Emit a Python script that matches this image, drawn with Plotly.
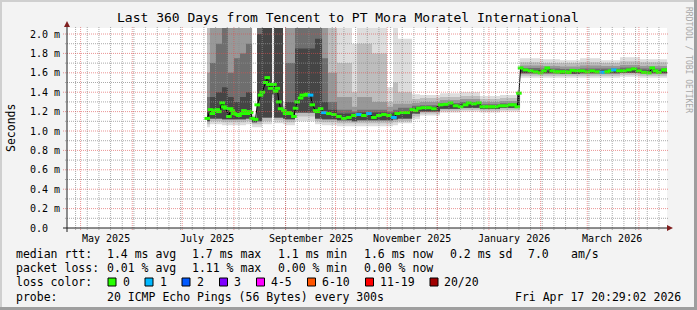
import plotly.graph_objects as go
from datetime import datetime, timedelta

# ---------------- data ----------------
range_start = "2025-04-22 20:29:02"
range_end = "2026-04-17 20:29:02"

median_dates = [
    "2025-07-16", "2025-07-18", "2025-07-19", "2025-07-20", "2025-07-22", "2025-07-23",
    "2025-07-25", "2025-07-26", "2025-07-27", "2025-07-29", "2025-07-30", "2025-07-31",
    "2025-08-01", "2025-08-03", "2025-08-04", "2025-08-06", "2025-08-07", "2025-08-09",
    "2025-08-10", "2025-08-11", "2025-08-12", "2025-08-14", "2025-08-15", "2025-08-17",
    "2025-08-18", "2025-08-20", "2025-08-21", "2025-08-22", "2025-08-23", "2025-08-25",
    "2025-08-26", "2025-08-27", "2025-08-28", "2025-08-29", "2025-08-31", "2025-09-01",
    "2025-09-03", "2025-09-04", "2025-09-06", "2025-09-07", "2025-09-08", "2025-09-10",
    "2025-09-11", "2025-09-13", "2025-09-14", "2025-09-16", "2025-09-17", "2025-09-19",
    "2025-09-20", "2025-09-22", "2025-09-24", "2025-09-27", "2025-09-30", "2025-10-03",
    "2025-10-06", "2025-10-09", "2025-10-12", "2025-10-15", "2025-10-18", "2025-10-21",
    "2025-10-24", "2025-10-27", "2025-10-30", "2025-11-02", "2025-11-05", "2025-11-07",
    "2025-11-10", "2025-11-13", "2025-11-16", "2025-11-18", "2025-11-20", "2025-11-23",
    "2025-11-26", "2025-11-29", "2025-12-03", "2025-12-06", "2025-12-09", "2025-12-12",
    "2025-12-15", "2025-12-18", "2025-12-20", "2025-12-23", "2025-12-26", "2025-12-28",
    "2025-12-30", "2026-01-01", "2026-01-03", "2026-01-05", "2026-01-08", "2026-01-11",
    "2026-01-14", "2026-01-16", "2026-01-18", "2026-01-19", "2026-01-20", "2026-01-23",
    "2026-01-26", "2026-01-29", "2026-02-01", "2026-02-03", "2026-02-05", "2026-02-08",
    "2026-02-10", "2026-02-12", "2026-02-14", "2026-02-16", "2026-02-18", "2026-02-20",
    "2026-02-23", "2026-02-26", "2026-03-01", "2026-03-04", "2026-03-07", "2026-03-10",
    "2026-03-13", "2026-03-15", "2026-03-17", "2026-03-20", "2026-03-23", "2026-03-26",
    "2026-03-29", "2026-04-01", "2026-04-04", "2026-04-07", "2026-04-09", "2026-04-11",
    "2026-04-13", "2026-04-16", "2026-04-17",
]
median_ms = [
    1.13, 1.22, 1.18, 1.21, 1.22, 1.20,
    1.29, 1.25, 1.235, 1.15, 1.23, 1.21,
    1.18, 1.17, 1.16, 1.18, 1.21, 1.18,
    1.20, 1.19, 1.13, 1.12, 1.27, 1.37,
    1.40, 1.50, 1.55, 1.48, 1.44, 1.48,
    1.41, 1.44, 1.30, 1.23, 1.21, 1.18,
    1.19, 1.18, 1.15, 1.235, 1.30, 1.34,
    1.37, 1.37, 1.38, 1.37, 1.27, 1.21,
    1.20, 1.23, 1.19, 1.18, 1.17, 1.15,
    1.13, 1.14, 1.16, 1.17, 1.16, 1.18,
    1.14, 1.16, 1.17, 1.16, 1.14, 1.18,
    1.19, 1.19, 1.22, 1.21, 1.235, 1.24,
    1.24, 1.23, 1.27, 1.275, 1.29, 1.26,
    1.25, 1.27, 1.29, 1.28, 1.29, 1.25,
    1.25, 1.25, 1.25, 1.25, 1.26, 1.26,
    1.27, 1.27, 1.25, 1.39, 1.65, 1.63,
    1.62, 1.61, 1.60, 1.62, 1.65, 1.62,
    1.61, 1.61, 1.61, 1.61, 1.605, 1.625,
    1.62, 1.62, 1.61, 1.62, 1.61, 1.605,
    1.61, 1.62, 1.63, 1.62, 1.62, 1.63,
    1.64, 1.62, 1.605, 1.60, 1.65, 1.62,
    1.605, 1.63, 1.63,
]
# packets lost (of 20) per sample
median_loss = [0] * len(median_ms)
for _d in ["2025-09-16", "2025-09-24", "2025-10-15", "2025-10-21", "2025-11-05",
           "2026-03-10", "2026-03-17"]:
    median_loss[median_dates.index(_d)] = 1

# smoke: step segments between these edges, values = ping-distribution bands (ms)
smoke_edges = [
    "2025-07-15 21:00", "2025-07-17 16:00", "2025-07-21 06:00", "2025-07-24 21:00",
    "2025-07-28 11:00", "2025-08-01 01:00", "2025-08-04 16:00", "2025-08-08 06:00",
    "2025-08-11 21:00", "2025-08-14 21:00", "2025-08-17 21:00", "2025-08-23 21:00",
    "2025-08-25 01:00", "2025-08-30 11:00", "2025-08-31 16:00", "2025-09-06 16:00",
    "2025-09-18 16:00", "2025-09-22 21:00", "2025-09-26 11:00", "2025-10-01 21:00",
    "2025-10-10 21:00", "2025-10-13 21:00", "2025-10-22 21:00", "2025-10-31 21:00",
    "2025-11-04 11:00", "2025-11-07 11:00", "2025-11-15 21:00", "2025-11-20 16:00",
    "2025-12-02 16:00", "2025-12-14 16:00", "2025-12-26 16:00", "2026-01-07 16:00",
    "2026-01-17 21:00", "2026-01-19 16:00", "2026-01-31 16:00", "2026-02-12 16:00",
    "2026-02-24 16:00", "2026-03-08 16:00", "2026-03-20 16:00", "2026-04-01 16:00",
    "2026-04-17 20:29",
]
smoke_hi1 = [2.2, 2.2, 2.2, 2.2, 2.2, 2.2, 2.2, 2.2, 1.17, 2.2,
             2.2, 1.5, 2.2, 1.3, 2.2, 2.2, 2.2, 2.2, 2.2, 2.2,
             1.9, 2.2, 2.2, 1.45, 2.2, 1.95, 1.38, 1.37, 1.39, 1.40,
             1.36, 1.37, 1.42, 1.75, 1.74, 1.73, 1.75, 1.73, 1.76, 1.74]
smoke_hi2 = [2.2, 2.2, 2.2, 2.2, 2.2, 2.2, 2.2, 2.2, 1.15, 2.2,
             2.2, 1.48, 2.2, 1.26, 2.2, 2.2, 2.2, 2.2, 2.2, 1.7,
             1.4, 1.9, 1.8, 1.3, 1.5, 1.4, 1.33, 1.34, 1.35, 1.36,
             1.33, 1.34, 1.40, 1.71, 1.70, 1.70, 1.71, 1.70, 1.72, 1.71]
smoke_hi3 = [1.6, 2.2, 2.2, 2.2, 2.2, 2.2, 2.2, 2.2, 1.14, 2.2,
             2.2, 1.47, 2.2, 1.24, 2.2, 2.2, 2.2, 2.2, 1.6, 1.35,
             1.25, 1.35, 1.3, 1.25, 1.28, 1.28, 1.29, 1.3, 1.32, 1.33,
             1.3, 1.31, 1.39, 1.675, 1.67, 1.665, 1.675, 1.67, 1.68, 1.67]
smoke_hi4 = [1.35, 1.7, 1.9, 2.2, 1.6, 1.75, 1.8, 1.9, 1.13, 2.2,
             2.2, 1.46, 2.2, 1.22, 1.7, 2.2, 2.2, 1.75, 1.3, 1.22,
             1.2, 1.22, 1.22, 1.2, 1.22, 1.24, 1.26, 1.265, 1.29, 1.3,
             1.275, 1.285, 1.38, 1.65, 1.645, 1.64, 1.645, 1.645, 1.655, 1.645]
smoke_hi5 = [1.2, 1.35, 1.4, 1.45, 1.35, 1.3, 1.35, 1.4, 1.12, 2.0,
             2.2, 1.45, 2.2, 1.2, 1.3, 1.85, 1.95, 1.3, 1.22, 1.18,
             1.18, 1.19, 1.19, 1.18, 1.19, 1.2, 1.24, 1.245, 1.27, 1.28,
             1.26, 1.27, 1.37, 1.63, 1.625, 1.62, 1.625, 1.625, 1.635, 1.625]
smoke_lo1 = [1.04, 1.07, 1.07, 1.06, 1.06, 1.06, 1.06, 1.07, 1.04, 1.04,
             1.07, 1.3, 1.08, 1.07, 1.06, 1.1, 1.07, 1.06, 1.06, 1.05,
             1.05, 1.05, 1.05, 1.05, 1.06, 1.08, 1.12, 1.16, 1.19, 1.2,
             1.19, 1.2, 1.2, 1.55, 1.55, 1.55, 1.55, 1.55, 1.56, 1.55]
smoke_lo2 = [1.07, 1.1, 1.1, 1.09, 1.09, 1.09, 1.09, 1.1, 1.07, 1.07,
             1.1, 1.34, 1.11, 1.1, 1.09, 1.15, 1.1, 1.09, 1.09, 1.08,
             1.08, 1.08, 1.08, 1.08, 1.09, 1.1, 1.15, 1.18, 1.21, 1.22,
             1.21, 1.22, 1.22, 1.57, 1.57, 1.57, 1.57, 1.57, 1.58, 1.57]
smoke_lo3 = [1.1, 1.13, 1.13, 1.12, 1.12, 1.12, 1.12, 1.13, 1.09, 1.1,
             1.14, 1.38, 1.14, 1.13, 1.12, 1.19, 1.13, 1.12, 1.12, 1.11,
             1.1, 1.11, 1.11, 1.11, 1.12, 1.13, 1.18, 1.2, 1.23, 1.24,
             1.23, 1.24, 1.25, 1.595, 1.595, 1.59, 1.595, 1.595, 1.6, 1.595]

x_label_dates = ["2025-05-16", "2025-07-16", "2025-09-16", "2025-11-16", "2026-01-16", "2026-03-16"]
x_labels = ["May 2025", "July 2025", "September 2025", "November 2025", "January 2026", "March 2026"]
y_ticks = [0.0, 0.2, 0.4, 0.6, 0.8, 1.0, 1.2, 1.4, 1.6, 1.8, 2.0]
y_labels = ["0.0", "0.2 m", "0.4 m", "0.6 m", "0.8 m", "1.0 m", "1.2 m", "1.4 m", "1.6 m", "1.8 m", "2.0 m"]

title_text = "Last 360 Days from Tencent to PT Mora Moratel International"
rtt_row = ["median rtt:", "1.4 ms avg", "1.7 ms max", "1.1 ms min", "1.6 ms now", "0.2 ms sd", "7.0", "am/s"]
loss_row = ["packet loss:", "0.01 % avg", "1.11 % max", "0.00 % min", "0.00 % now"]
loss_labels = ["0", "1", "2", "3", "4-5", "6-10", "11-19", "20/20"]
loss_colors = ["#26ff00", "#00b8ff", "#0059ff", "#7e00ff", "#ff00ff", "#ff5500", "#ff0000", "#a00000"]
probe_text = "20 ICMP Echo Pings (56 Bytes) every 300s"
stamp_text = "Fri Apr 17 20:29:02 2026"

# ---------------- layout constants ----------------
W, H = 697, 310
ML, MT, PW, PH = 67, 28, 600, 200
MR, MB = W - ML - PW, H - MT - PH
FONT = "DejaVu Sans Mono"
Y_MAX = 2.062

def px_x(p):
    return (p - ML) / PW

def px_y(p):
    return (MT + PH - p) / PH

fig = go.Figure()

# smoke layers
smoke_layers = [
    (smoke_lo1, smoke_hi1, "#dddddd"),
    (smoke_lo2, smoke_hi2, "#bdbdbd"),
    (smoke_lo3, smoke_hi3, "#989898"),
    (smoke_lo3, smoke_hi4, "#6e6e6e"),
    (smoke_lo3, smoke_hi5, "#454545"),
]
for lo, hi, col in smoke_layers:
    fig.add_trace(go.Scatter(x=smoke_edges, y=lo + [lo[-1]], mode="lines",
                             line=dict(width=0, shape="hv"), hoverinfo="skip", showlegend=False))
    fig.add_trace(go.Scatter(x=smoke_edges, y=hi + [hi[-1]], mode="lines",
                             line=dict(width=0, shape="hv"), fill="tonexty", fillcolor=col,
                             hoverinfo="skip", showlegend=False))

# median line
fig.add_trace(go.Scatter(x=median_dates, y=median_ms, mode="lines",
                         line=dict(color="#000000", width=1), hoverinfo="skip", showlegend=False))
mcols = [loss_colors[n] for n in median_loss]
fig.add_trace(go.Scatter(x=median_dates, y=median_ms, mode="markers",
                         marker=dict(symbol="line-ew", size=4, line=dict(width=3, color=mcols)),
                         hoverinfo="skip", showlegend=False))

shapes = []
# grid above data (rrdtool style)
GRID = "rgba(143,143,143,0.75)"
MGRID = "rgba(222,79,79,0.6)"
d0 = datetime(2025, 4, 28)
while d0 < datetime(2026, 4, 18):
    shapes.append(dict(type="line", xref="x", yref="paper", x0=d0, x1=d0, y0=-2 / PH, y1=1 + 2 / PH,
                       line=dict(color=GRID, width=1, dash="1px,1px"), layer="above"))
    d0 += timedelta(days=7)
for m in range(12):
    yy, mm = 2025 + (4 + m) // 12, (4 + m) % 12 + 1
    d = datetime(yy, mm, 1)
    shapes.append(dict(type="line", xref="x", yref="paper", x0=d, x1=d, y0=-2 / PH, y1=1 + 2 / PH,
                       line=dict(color=MGRID, width=1, dash="1px,1px"), layer="above"))
for i in range(1, 21):
    v = i / 10
    major = i % 2 == 0
    shapes.append(dict(type="line", xref="paper", yref="y", x0=-(4 if major else 2) / PW, x1=1 + 2 / PW,
                       y0=v, y1=v, line=dict(color=MGRID if major else GRID, width=1, dash="1px,1px"),
                       layer="above"))
# axes
AX = "#1f1f1f"
ARROW = "#801f1f"
shapes.append(dict(type="line", xref="paper", yref="paper", x0=px_x(63), x1=px_x(669), y0=0, y1=0,
                   line=dict(color=AX, width=1), layer="above"))
shapes.append(dict(type="line", xref="paper", yref="paper", x0=0, x1=0, y0=px_y(232), y1=px_y(25),
                   line=dict(color=AX, width=1), layer="above"))
shapes.append(dict(type="path", xref="paper", yref="paper",
                   path=f"M {px_x(64)},{px_y(27)} L {px_x(67)},{px_y(21)} L {px_x(70)},{px_y(27)} Z",
                   fillcolor=ARROW, line=dict(width=0), layer="above"))
shapes.append(dict(type="path", xref="paper", yref="paper",
                   path=f"M {px_x(667)},{px_y(225)} L {px_x(673)},{px_y(228)} L {px_x(667)},{px_y(231)} Z",
                   fillcolor=ARROW, line=dict(width=0), layer="above"))
# frame shading
shapes.append(dict(type="rect", xref="paper", yref="paper", x0=px_x(0), x1=px_x(W), y0=px_y(0), y1=px_y(2),
                   fillcolor="#cfcfcf", line=dict(width=0), layer="below"))
shapes.append(dict(type="rect", xref="paper", yref="paper", x0=px_x(0), x1=px_x(2), y0=px_y(0), y1=px_y(H),
                   fillcolor="#cfcfcf", line=dict(width=0), layer="below"))
shapes.append(dict(type="rect", xref="paper", yref="paper", x0=px_x(W - 3), x1=px_x(W), y0=px_y(0), y1=px_y(H),
                   fillcolor="#9e9e9e", line=dict(width=0), layer="below"))
shapes.append(dict(type="rect", xref="paper", yref="paper", x0=px_x(0), x1=px_x(W), y0=px_y(H - 3), y1=px_y(H),
                   fillcolor="#9e9e9e", line=dict(width=0), layer="below"))

annotations = []

def ann(text, px, py, size, anchor="left", color="#000000", angle=0, xref="paper", x=None, yref="paper", y=None):
    annotations.append(dict(text=text, x=px_x(px) if x is None else x, y=px_y(py) if y is None else y,
                            xref=xref, yref=yref, xanchor=anchor, yanchor="middle", showarrow=False,
                            textangle=angle, borderpad=0,
                            font=dict(family=FONT, size=size, color=color)))

ann(title_text, 348, 18, 13, anchor="center")
for d, t in zip(x_label_dates, x_labels):
    ann(t, 0, 238, 10, anchor="center", xref="x", x=d)
for v, t in zip(y_ticks, y_labels):
    ann(t, 29, 0, 10, anchor="left", yref="y", y=v)
ann("Seconds", 11, 128, 11.5, anchor="center", angle=-90)
ann("RRDTOOL / TOBI OETIKER", 689, 60, 8, anchor="center", color="#a8a8a8", angle=90)

rtt_x = [15, 106, 191, 277, 363, 449, 527, 570]
for t, x in zip(rtt_row, rtt_x):
    ann(t, x, 254, 11.5)
for t, x in zip(loss_row, rtt_x):
    ann(t, x, 268, 11.5)
ann("loss color:", 15, 282, 11.5)
box_x = [108, 145, 182, 219.5, 256.5, 307.5, 365.5, 430]
for bx, lab, col in zip(box_x, loss_labels, loss_colors):
    shapes.append(dict(type="rect", xref="paper", yref="paper", x0=px_x(bx), x1=px_x(bx + 8),
                       y0=px_y(278), y1=px_y(286), fillcolor=col, line=dict(color="#000000", width=1),
                       layer="above"))
    ann(lab, bx + 13.5, 282, 11.5)
ann("probe:", 15, 297, 11.5)
ann(probe_text, 106, 297, 11.5)
ann(stamp_text, 682, 297, 11.5, anchor="right")

fig.update_layout(
    width=W, height=H,
    margin=dict(l=ML, r=MR, t=MT, b=MB, pad=0),
    paper_bgcolor="#f3f3f3", plot_bgcolor="#ffffff",
    xaxis=dict(type="date", range=[range_start, range_end], showgrid=False, zeroline=False,
               showline=False, showticklabels=False, ticks="", fixedrange=True),
    yaxis=dict(range=[0, Y_MAX], showgrid=False, zeroline=False, showline=False,
               showticklabels=False, ticks="", fixedrange=True),
    shapes=shapes, annotations=annotations, showlegend=False,
)
fig.write_html("out.html")
